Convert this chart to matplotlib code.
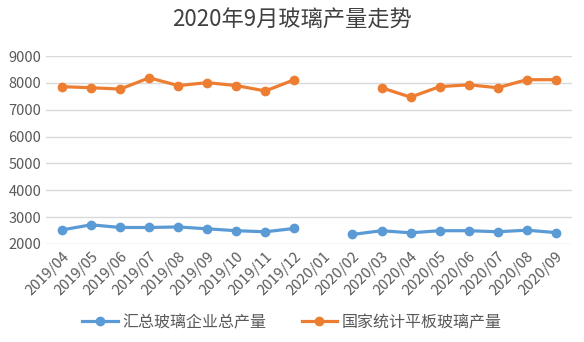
import numpy as np
import matplotlib.pyplot as plt

plt.rcParams['font.family'] = ['Noto Sans CJK SC', 'DejaVu Sans']

# data
months = ['2019/04', '2019/05', '2019/06', '2019/07', '2019/08', '2019/09',
          '2019/10', '2019/11', '2019/12', '2020/01', '2020/02', '2020/03',
          '2020/04', '2020/05', '2020/06', '2020/07', '2020/08', '2020/09']
total_output = [2520, 2710, 2610, 2610, 2630, 2560, 2490, 2450, 2575, np.nan,
                2350, 2490, 2410, 2490, 2490, 2450, 2510, 2420]
national_output = [7860, 7820, 7770, 8190, 7900, 8010, 7900, 7700, 8120, np.nan,
                   np.nan, 7820, 7470, 7860, 7930, 7820, 8120, 8120]
yticks = [2000, 3000, 4000, 5000, 6000, 7000, 8000, 9000]

fig = plt.figure(figsize=(5.84, 3.42), dpi=100)
ax = fig.add_axes([0.079, 0.287, 0.9, 0.549])

x = np.arange(len(months))
ax.plot(x, total_output, color='#5B9BD5', lw=2.3, marker='o', ms=6, label='汇总玻璃企业总产量')
ax.plot(x, national_output, color='#ED7D31', lw=2.3, marker='o', ms=6, label='国家统计平板玻璃产量')

ax.set_xlim(-0.55, len(months) - 0.45)
ax.set_ylim(2000, 9000)
ax.set_yticks(yticks)
ax.set_xticks(x)
ax.set_xticklabels(months, rotation=45, ha='right', rotation_mode='anchor')
ax.tick_params(colors='#595959', labelsize=10.5, length=0)
ax.tick_params(axis='x', pad=4)
ax.grid(axis='y', color='#D9D9D9', lw=1)
ax.set_axisbelow(True)
for s in ax.spines.values():
    s.set_visible(False)

fig.suptitle('2020年9月玻璃产量走势', y=0.975, fontsize=16, color='#404040')
fig.legend(loc='lower center', bbox_to_anchor=(0.5, -0.01), ncol=2, frameon=False,
           fontsize=11.5, labelcolor='#595959', handlelength=2.2, handletextpad=0.3,
           columnspacing=2.2)

fig.savefig('out.png', dpi=100)
